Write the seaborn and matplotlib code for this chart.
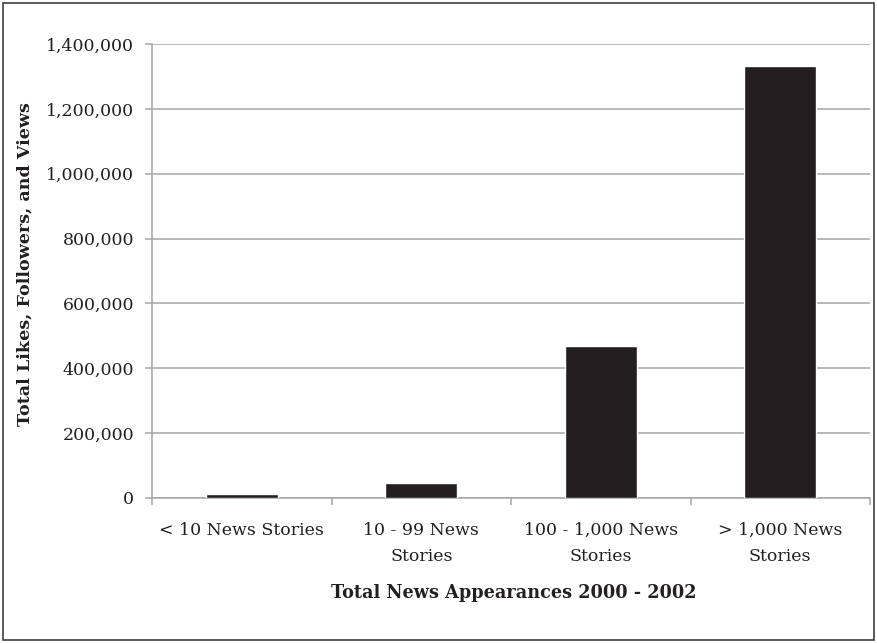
import matplotlib
matplotlib.use("Agg")
import matplotlib.pyplot as plt
from matplotlib.patches import Rectangle
from matplotlib.ticker import FuncFormatter, FixedLocator
import seaborn as sns
import pandas as pd

# Audience totals by news-coverage bracket
categories = ["< 10 News Stories", "10 - 99 News\nStories",
              "100 - 1,000 News\nStories", "> 1,000 News\nStories"]
totals = [13000, 47000, 468000, 1331000]
y_ticks = [0, 200000, 400000, 600000, 800000, 1000000, 1200000, 1400000]

df = pd.DataFrame({"bracket": categories, "total": totals})

sns.set_theme(style="white")
plt.rcParams["font.family"] = ["DejaVu Serif"]

fig = plt.figure(figsize=(8.77, 6.43), dpi=100)
ax = fig.add_axes([152 / 877, 1 - 498 / 643, 718 / 877, 454 / 643])

sns.barplot(data=df, x="bracket", y="total", color="#231F20",
            width=0.4, saturation=1, ax=ax, zorder=3)

grid_c = "#A6A6A6"
ax.set_ylim(0, 1400000)
ax.set_xlim(-0.5, len(categories) - 0.5)
ax.yaxis.set_major_locator(FixedLocator(y_ticks))
ax.yaxis.set_major_formatter(FuncFormatter(lambda v, p: f"{int(v):,}"))
ax.grid(axis="y", color=grid_c, linewidth=1.1, zorder=0)
ax.set_axisbelow(True)

# boundary ticks between categories, labels at category centres
ax.xaxis.set_major_locator(FixedLocator([i - 0.5 for i in range(len(categories) + 1)]))
ax.xaxis.set_major_formatter(FuncFormatter(lambda v, p: ""))
ax.xaxis.set_minor_locator(FixedLocator(list(range(len(categories)))))
ax.set_xticklabels(categories, minor=True, linespacing=1.75)

ax.tick_params(axis="x", which="major", length=5, width=1.1, color=grid_c,
               direction="out", bottom=True)
ax.tick_params(axis="x", which="minor", length=0, pad=17, labelsize=12.5,
               labelcolor="#231F20", bottom=True)
ax.tick_params(axis="y", length=5, width=1.1, color=grid_c, direction="out",
               left=True, pad=8, labelsize=12.5, labelcolor="#231F20")

for side in ("top", "right"):
    ax.spines[side].set_visible(False)
for side in ("left", "bottom"):
    ax.spines[side].set_color(grid_c)
    ax.spines[side].set_linewidth(1.1)

ax.set_xlabel("")
ax.set_ylabel("")

fig.text(514 / 877, 1 - 598 / 643, "Total News Appearances 2000 - 2002",
         ha="center", va="baseline", fontsize=12.7, fontweight="bold",
         color="#231F20")
fig.text(25 / 877, 1 - 264 / 643, "Total Likes, Followers, and Views",
         ha="center", va="center", rotation=90, fontsize=12.6,
         fontweight="bold", color="#231F20")

# outer frame around the whole figure
fig.patches.append(Rectangle((3 / 877, 3 / 643), 871 / 877, 637 / 643,
                             transform=fig.transFigure, fill=False,
                             edgecolor="#404040", linewidth=1.2))

fig.savefig("out.png", dpi=100)
